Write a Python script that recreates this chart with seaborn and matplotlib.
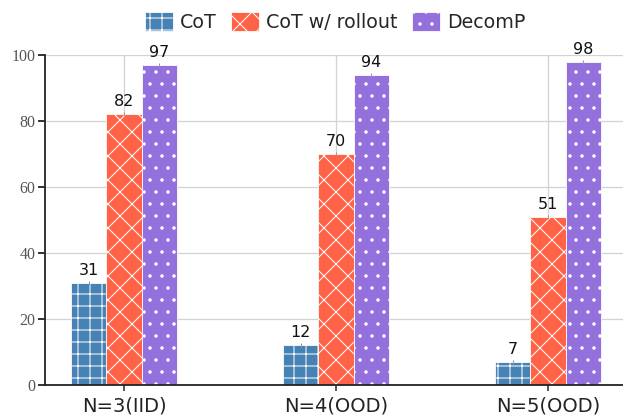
import numpy as np
import pandas as pd
import matplotlib
matplotlib.use("Agg")
import matplotlib.pyplot as plt
import seaborn as sns

# ---- data ----
groups = ["N=3(IID)", "N=4(OOD)", "N=5(OOD)"]
methods = ["CoT", "CoT w/ rollout", "DecomP"]
cot = [31, 12, 7]
cot_rollout = [82, 70, 51]
decomp = [97, 94, 98]
errs = [0.6, 0.6, 0.6]
colors = ["#4682B4", "#FF6347", "#9370DB"]
hatches = ["+", "x", "."]
yticks = [0, 20, 40, 60, 80, 100]

df = pd.DataFrame({
    "group": groups * 3,
    "method": [m for m in methods for _ in groups],
    "value": cot + cot_rollout + decomp,
})

sns.set_theme(style="whitegrid")
plt.rcParams["font.family"] = ["DejaVu Sans"]
plt.rcParams["hatch.linewidth"] = 1.0

DPI = 72
fig = plt.figure(figsize=(623 / DPI, 417 / DPI), dpi=DPI)
ax = fig.add_axes([44.5 / 623, 32 / 417, 583 / 623, 330 / 417])

sns.barplot(data=df, x="group", y="value", hue="method", palette=colors,
            width=0.5, errorbar=None, saturation=1, legend=False, ax=ax,
            zorder=2)

for cont, h in zip(ax.containers, hatches):
    for p in cont.patches:
        p.set_hatch(h)
        p.set_edgecolor("white")
        p.set_linewidth(0.8)

series = [cot, cot_rollout, decomp]
for cont, vals in zip(ax.containers, series):
    xs = [p.get_x() + p.get_width() / 2 for p in cont.patches]
    ax.errorbar(xs, vals, yerr=errs, fmt="none", ecolor="#999999",
                elinewidth=1, zorder=3)
    ax.bar_label(cont, labels=[str(v) for v in vals], padding=5,
                 fontsize=16, color="#111111", zorder=4)

ax.set_xlim(-0.375, 2.375)
ax.set_ylim(0, 100)
ax.set_yticks(yticks)
ax.set_xlabel("")
ax.set_ylabel("")
ax.grid(True, color="#d3d3d3", linewidth=1.3)
ax.set_axisbelow(True)
for s in ["top", "right"]:
    ax.spines[s].set_visible(False)
for s in ["left", "bottom"]:
    ax.spines[s].set_color("#222222")
    ax.spines[s].set_linewidth(1.8)
ax.tick_params(axis="x", bottom=True, length=6, width=1.5, color="#222222",
               labelsize=19.5, labelcolor="#222222", pad=5)
ax.tick_params(axis="y", left=True, length=7, width=1.8, color="#222222",
               labelcolor="#555555", pad=2)
for lab in ax.get_yticklabels():
    lab.set_family("Liberation Serif")
    lab.set_fontsize(16)
ax.set_facecolor("white")

ax.legend(ax.containers, methods, loc="center", ncol=3, frameon=False,
          bbox_to_anchor=(335 / 623, 1 - 22 / 417), bbox_transform=fig.transFigure,
          fontsize=19, handlelength=1.5, handleheight=1.15, handletextpad=0.35,
          columnspacing=0.75)

fig.savefig("out.png", dpi=DPI)
